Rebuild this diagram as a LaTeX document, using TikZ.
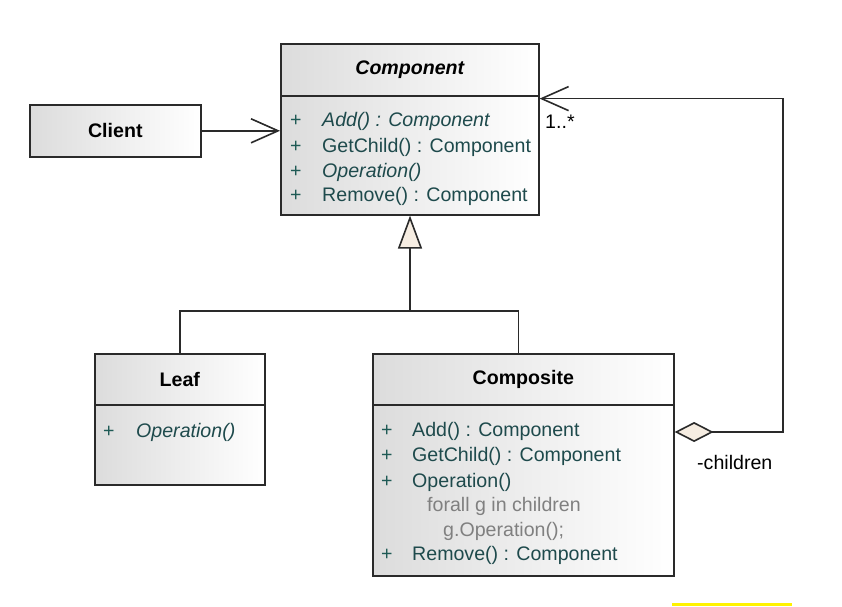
\documentclass[tikz,border=0pt]{standalone}
\usepackage{fontspec}
\setmainfont{Liberation Sans}
\usetikzlibrary{arrows.meta}
\definecolor{txt}{HTML}{1E4A4C}
\definecolor{plus}{HTML}{1E5A55}
\definecolor{ln}{HTML}{2A2A2A}
\definecolor{cream}{HTML}{F6EDE2}
\definecolor{boxl}{HTML}{DCDCDC}
\newcommand{\basefont}{\fontsize{19.6}{23}\selectfont}
\tikzset{
  cls/.style={draw=ln, line width=1.6pt, left color=boxl, right color=white, anchor=north west, inner sep=0pt, font=\basefont\bfseries},
  row/.style={anchor=west, inner sep=0pt, text=txt, text height=14pt, text depth=4pt},
  pl/.style={anchor=west, inner sep=0pt, text=plus, text height=14pt, text depth=4pt},
  note/.style={anchor=west, inner sep=0pt, text=gray, text height=14pt, text depth=4pt},
  conn/.style={draw=ln, line width=1.6pt},
}
\begin{document}
\begin{tikzpicture}[x=1pt,y=-1pt, font=\basefont]
\useasboundingbox (0,0) rectangle (842,606);
% Component
\node[cls, minimum width=258pt, minimum height=52pt] (ch) at (280,43) {\itshape Component};
\node[cls, minimum width=258pt, minimum height=119pt] (cb) at (280,95) {};
\node[pl] (cp1) at (290,121) {+};
\node[row] (cr1) at (322,121) {\itshape Add() : Component};
\node[pl] (cp2) at (290,147) {+};
\node[row] (cr2) at (322,147) {GetChild() : Component};
\node[pl] (cp3) at (290,172) {+};
\node[row] (cr3) at (322,172) {\itshape Operation()};
\node[pl] (cp4) at (290,196) {+};
\node[row] (cr4) at (322,196) {Remove() : Component};
% Client
\node[cls, minimum width=171pt, minimum height=52pt] (cl) at (29,104) {Client};
% Leaf
\node[cls, minimum width=170pt, minimum height=51pt] (lh) at (94,353) {Leaf};
\node[cls, minimum width=170pt, minimum height=80pt] (lb) at (94,404) {};
\node[pl] (lp1) at (103,432) {+};
\node[row] (lr1) at (136,432) {\itshape Operation()};
% Composite
\node[cls, minimum width=301pt, minimum height=51pt] (sh) at (372,353) {Composite};
\node[cls, minimum width=301pt, minimum height=171pt] (sb) at (372,404) {};
\node[pl] (sp1) at (381,431) {+};
\node[row] (sr1) at (412,431) {Add() : Component};
\node[pl] (sp2) at (381,456) {+};
\node[row] (sr2) at (412,456) {GetChild() : Component};
\node[pl] (sp3) at (381,482) {+};
\node[row] (sr3) at (412,482) {Operation()};
\node[note] (sn1) at (427,506) {forall g in children};
\node[note] (sn2) at (443,531) {g.Operation();};
\node[pl] (sp4) at (381,555) {+};
\node[row] (sr4) at (412,555) {Remove() : Component};
% Client -> Component
\draw[conn, -{Straight Barb[length=27pt,width=24pt,line width=1.6pt]}] (cl.east) -- (cl.east -| cb.west);
% Generalization
\coordinate (j) at (410,311);
\draw[conn] (lh.north) |- (j) -| ([xshift=-5pt]sh.north);
\draw[conn, -{Triangle[open, length=33pt, width=24pt, fill=cream, line width=1.6pt]}] (j) -- (j |- cb.south);
% Aggregation
\coordinate (k) at (783,432);
\draw[conn, {Diamond[open, length=39pt, width=20pt, fill=cream, line width=1.6pt]}-{Straight Barb[length=27pt,width=24pt,line width=1.6pt]}]
  ([yshift=-28pt]sb.north east) -- (k) |- ([yshift=-2pt]ch.south east);
\node[anchor=west, inner sep=0pt, text=black] (mult) at (545,122) {1..*};
\node[anchor=west, inner sep=0pt, text=black] (role) at (697,462) {-children};
% yellow bar
\fill[yellow] (672,603) rectangle (792,606);
\end{tikzpicture}
\end{document}
